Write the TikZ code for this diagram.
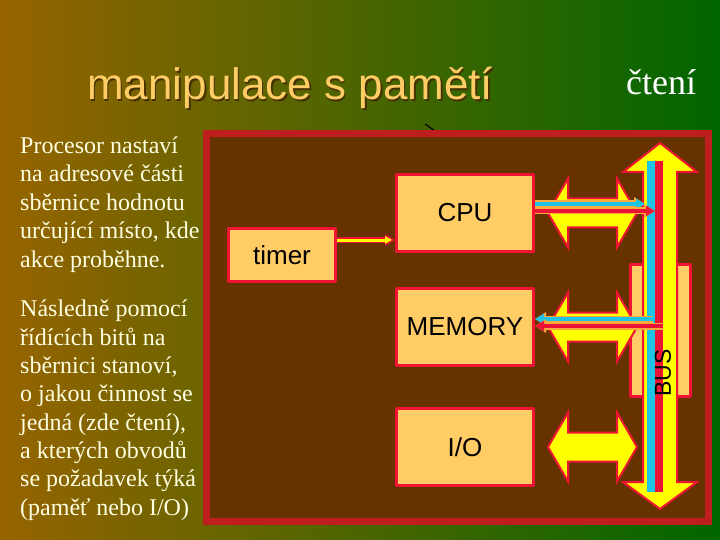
\documentclass[tikz,border=0pt]{standalone}
\usepackage{fontspec}
\setmainfont{Liberation Serif}
\newfontfamily\arial{Liberation Sans}
\usetikzlibrary{arrows.meta}
\definecolor{bgL}{RGB}{150,100,0}
\definecolor{bgR}{RGB}{0,102,0}
\definecolor{panel}{RGB}{102,51,0}
\definecolor{frame}{RGB}{190,30,30}
\definecolor{boxfill}{RGB}{255,204,102}
\definecolor{boxline}{RGB}{240,20,50}
\definecolor{busyel}{RGB}{255,255,0}
\definecolor{buscyan}{RGB}{30,195,230}
\definecolor{busred}{RGB}{235,20,55}
\definecolor{edge}{RGB}{250,170,60}
\definecolor{cream}{RGB}{255,255,225}
\definecolor{shadowc}{RGB}{70,50,0}
\tikzset{
  unit/.style={draw=boxline, fill=boxfill, line width=3pt, inner sep=0pt,
    minimum width=137, minimum height=77, font=\arial\fontsize{26}{30}\selectfont},
  plate/.style={draw=boxline, fill=boxfill, line width=3pt},
  wide arrow/.style={fill=busyel, draw=boxline, line width=2pt, line join=miter},
  sig/.style={line width=4pt, -{Triangle[length=9pt,width=10pt]}},
  sigedge/.style={line width=7pt, draw=edge, -{Triangle[length=11pt,width=13pt]}},
}
\begin{document}
\begin{tikzpicture}[x=1pt,y=-1pt,line join=round]
	\useasboundingbox (0,0) rectangle (720,540);
	\shade [left color=bgL, right color=bgR] (0,0) rectangle (720,540);
	\def\dbl#1{\filldraw [wide arrow] ([xshift=13]#1.east) -- ++(20,-34.5) -- ++(0,20) -- ++(49,0) -- ++(0,-20) -- ++(20,34.5) -- ++(-20,34.5) -- ++(0,-20) -- ++(-49,0) -- ++(0,20) -- cycle;}
	% titles
	\node [anchor=base west, inner sep=0, text=shadowc, font=\arial\fontsize{44}{50}\selectfont] at (88.5,101.5) {manipulace s pamětí};
	\node [anchor=base west, inner sep=0, text=boxfill, font=\arial\fontsize{44}{50}\selectfont] (title) at (87,100) {manipulace s pamětí};
	\node [anchor=base west, inner sep=0, text=white, font=\fontsize{36}{40}\selectfont] (mode) at (626,95) {čtení};
	\node [anchor=base west, inner sep=0, align=left, text=cream, font=\fontsize{24}{28.5}\selectfont] (addr) at (20,267)
		{Procesor nastaví\\na adresové části\\sběrnice hodnotu\\určující místo, kde\\akce proběhne.};
	\node [anchor=base west, inner sep=0, align=left, text=cream, font=\fontsize{24}{28.3}\selectfont] (ctrl) at (20,515)
		{Následně pomocí\\řídících bitů na\\sběrnici stanoví,\\o jakou činnost se\\jedná (zde čtení),\\a kterých obvodů\\se požadavek týká\\(paměť nebo I/O)};
	\draw [black, line width=1.2pt] (425,124) -- (435,131);
	% panel
	\draw [frame, fill=panel, line width=7pt, line join=miter] (206,134) rectangle (708,521);
	\draw [plate] (630,264) rectangle (690,396);
	% bus
	\filldraw [wide arrow] (660,143) -- (697,172) -- (677,172) -- (677,482) -- (697,482) -- (660,509) -- (623,482) -- (643,482) -- (643,172) -- (623,172) -- cycle;
	\fill [buscyan] (647,161) rectangle (655,492);
	\fill [busred] (655,161) rectangle (663,492);
	\path (645,204) coordinate (cpuC) (655,211) coordinate (cpuR) (653,319) coordinate (memC) (663,326) coordinate (memR);
	% units
	\node [unit, minimum width=107, minimum height=53] (timer) at (282,255) {timer};
	\node [unit] (cpu) at (465,213) {CPU};
	\node [unit] (mem) at (465,327) {MEMORY};
	\node [unit] (io) at (465,447) {I/O};
	\dbl{cpu}
	\dbl{mem}
	\dbl{io}
	% signals
	\draw [line width=6pt, boxline, -{Triangle[length=10pt,width=11pt]}] ([yshift=15]timer.east) -- ([yshift=-27]cpu.west);
	\draw [line width=3pt, busyel, -{Triangle[length=7pt,width=7pt]}] ([yshift=15]timer.east) -- ([xshift=-3,yshift=-27]cpu.west);
	\draw [sigedge] ([yshift=9]cpu.east) -- (cpuC);
	\draw [sig, buscyan] ([yshift=9]cpu.east) -- (cpuC);
	\draw [sigedge] ([yshift=2]cpu.east) -- (cpuR);
	\draw [sig, busred] ([yshift=2]cpu.east) -- (cpuR);
	\draw [sigedge] (memC) -- ([yshift=8]mem.east);
	\draw [sig, buscyan] (memC) -- ([yshift=8]mem.east);
	\draw [sigedge] (memR) -- ([yshift=1]mem.east);
	\draw [sig, busred] (memR) -- ([yshift=1]mem.east);
	\node [rotate=90, inner sep=0, font=\arial\fontsize{23}{26}\selectfont] (bus) at (663,373) {BUS};
\end{tikzpicture}
\end{document}
